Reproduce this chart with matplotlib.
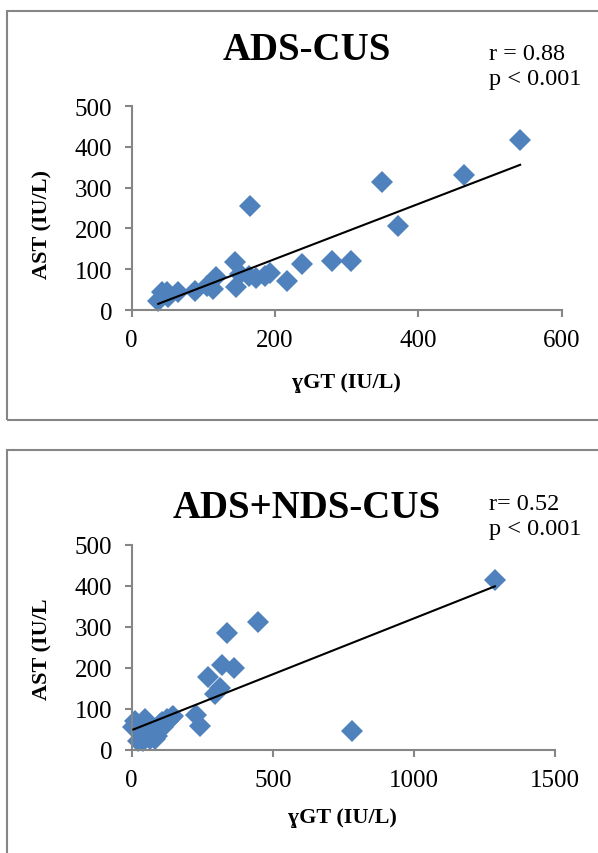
import matplotlib
matplotlib.use("Agg")
import matplotlib.pyplot as plt
import matplotlib.patches as patches
import numpy as np

# ADS-CUS panel (top)
ggt_ads = [37, 42, 49, 50, 65, 88, 105, 114, 118, 144, 146, 151, 163, 174, 186, 193,
           216, 237, 279, 306, 165, 349, 372, 464, 542]
ast_ads = [23, 43, 43, 33, 43, 47, 60, 51, 80, 117, 56, 88, 84, 79, 84, 91,
           72, 113, 119, 119, 256, 313, 205, 330, 416]
fit_ads = (0.675, -10.0)   # slope, intercept of trend line

# ADS+NDS-CUS panel (bottom)
ggt_all = [1287, 449, 337, 321, 363, 272, 313, 295, 228, 242, 780, 148, 130, 112, 100,
           89, 83, 77, 65, 53, 47, 41, 29, 23, 12, 6, 142, 124, 106, 35]
ast_all = [415, 313, 284, 207, 199, 177, 150, 136, 85, 59, 45, 83, 71, 55, 63,
           34, 26, 38, 26, 46, 75, 22, 42, 22, 71, 55, 80, 75, 67, 30]
fit_all = (0.273, 47.7)

W, H = 598, 854
serif = ["Liberation Serif", "DejaVu Serif"]
blue = "#4F81BD"
grey = "#868686"

fig = plt.figure(figsize=(W / 100, H / 100), dpi=100)

def fx(x):
    return x / W

def fy(y):
    return 1 - y / H

# panel borders
fig.patches.append(patches.Rectangle((fx(7), fy(421)), 1.0, (421 - 12) / H, transform=fig.transFigure,
                                     fill=False, edgecolor=grey, linewidth=1.5))
fig.patches.append(patches.Rectangle((fx(7), -0.1), 1.0, fy(451) + 0.1, transform=fig.transFigure,
                                     fill=False, edgecolor=grey, linewidth=1.5))

def panel(rect, xs, ys, fit, xmax, xticks):
    ax = fig.add_axes(rect)
    ax.plot(xs, ys, linestyle="none", marker="D", markersize=11.5, color=blue,
            markeredgewidth=0, zorder=2, clip_on=False)
    xl = np.array([min(xs), max(xs)])
    ax.plot(xl, fit[0] * xl + fit[1], color="black", linewidth=1.5, zorder=3)
    ax.set_xlim(0, xmax)
    ax.set_ylim(0, 500)
    ax.set_xticks(xticks)
    ax.set_yticks([0, 100, 200, 300, 400, 500])
    for s in ["top", "right"]:
        ax.spines[s].set_visible(False)
    for s in ["left", "bottom"]:
        ax.spines[s].set_color(grey)
        ax.spines[s].set_linewidth(1.5)
    ax.tick_params(axis="both", direction="out", length=5, width=1.5, color=grey,
                   labelsize=18)
    ax.tick_params(axis="x", pad=9)
    ax.tick_params(axis="y", pad=9)
    for lab in ax.get_xticklabels() + ax.get_yticklabels():
        lab.set_family(serif)
    return ax

panel([fx(131.7), fy(311), (561.7 - 131.7) / W, 204 / H], ggt_ads, ast_ads, fit_ads, 600,
      [0, 200, 400, 600])
panel([fx(131.7), fy(750.7), (555 - 131.7) / W, 204.7 / H], ggt_all, ast_all, fit_all, 1500,
      [0, 500, 1000, 1500])

# titles and stats
fig.text(fx(307), fy(51), "ADS-CUS", ha="center", va="center", fontsize=28,
         fontweight="bold", family=serif)
fig.text(fx(489), fy(67), "r = 0.88\np < 0.001", ha="left", va="center", fontsize=17.5,
         family=serif, linespacing=1.3)
fig.text(fx(307), fy(508), "ADS+NDS-CUS", ha="center", va="center", fontsize=28,
         fontweight="bold", family=serif)
fig.text(fx(489), fy(517), "r= 0.52\np < 0.001", ha="left", va="center", fontsize=17.5,
         family=serif, linespacing=1.3)

# axis labels
fig.text(fx(42), fy(225), "AST (IU/L)", ha="center", va="center", rotation=90,
         fontsize=16, fontweight="bold", family=serif)
fig.text(fx(346), fy(383), "ɣGT (IU/L)", ha="center", va="center",
         fontsize=16, fontweight="bold", family=serif)
fig.text(fx(42), fy(649), "AST (IU/L", ha="center", va="center", rotation=90,
         fontsize=16, fontweight="bold", family=serif)
fig.text(fx(342), fy(818), "ɣGT (IU/L)", ha="center", va="center",
         fontsize=16, fontweight="bold", family=serif)

fig.savefig("out.png", dpi=100, facecolor="white")
